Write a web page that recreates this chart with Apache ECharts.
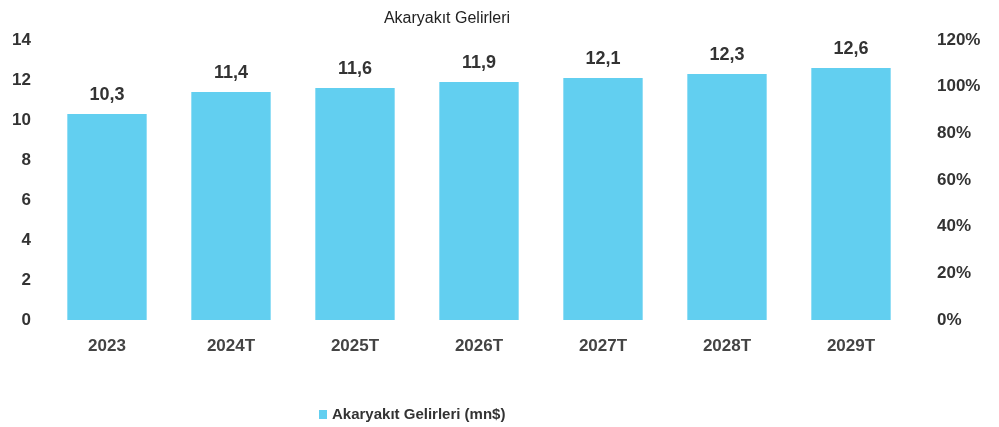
<!DOCTYPE html>
<html>
<head>
<meta charset="utf-8">
<script src="https://cdn.jsdelivr.net/npm/echarts@6/dist/echarts.min.js"></script>
<style>
  html, body { margin: 0; padding: 0; background: #fff; }
  #chart { width: 999px; height: 427px; }
</style>
</head>
<body>
<div id="chart"></div>
<script>
  const years = ['2023', '2024T', '2025T', '2026T', '2027T', '2028T', '2029T']
  const gelirler = [10.3, 11.4, 11.6, 11.9, 12.1, 12.3, 12.6]
  const seriesName = 'Akaryakıt Gelirleri (mn$)'

  const chart = echarts.init(document.getElementById('chart'))
  chart.setOption({
    textStyle: { fontFamily: 'Liberation Sans, Arial, sans-serif' },
    title: {
      text: 'Akaryakıt Gelirleri',
      left: 442,
      top: 6,
      textAlign: 'center',
      textStyle: { fontSize: 16, fontWeight: 'normal', color: '#222' }
    },
    legend: {
      top: 402,
      left: 314,
      icon: 'rect',
      itemWidth: 8,
      itemHeight: 9,
      itemGap: 4,
      textStyle: { fontSize: 15, fontWeight: 'bold', color: '#333' },
      data: [seriesName]
    },
    grid: { left: 45, right: 86, top: 40, bottom: 107 },
    xAxis: {
      type: 'category',
      data: years,
      axisLine: { show: false },
      axisTick: { show: false },
      axisLabel: { fontSize: 17, fontWeight: 'bold', color: '#444', margin: 18 }
    },
    yAxis: [{
      type: 'value',
      min: 0,
      max: 14,
      interval: 2,
      splitLine: { show: false },
      axisLine: { show: false },
      axisTick: { show: false },
      axisLabel: { fontSize: 17, fontWeight: 'bold', color: '#333', margin: 14 }
    }, {
      type: 'value',
      min: 0,
      max: 120,
      interval: 20,
      position: 'right',
      splitLine: { show: false },
      axisLine: { show: false },
      axisTick: { show: false },
      axisLabel: { fontSize: 17, fontWeight: 'bold', color: '#333', margin: 24, formatter: '{value}%' }
    }],
    series: [{
      name: seriesName,
      type: 'bar',
      barWidth: '64%',
      itemStyle: { color: '#62CFF0' },
      label: {
        show: true,
        position: 'top',
        distance: 10,
        fontSize: 18,
        fontWeight: 'bold',
        color: '#333',
        formatter: p => String(p.value).replace('.', ',')
      },
      data: gelirler
    }]
  })
</script>
</body>
</html>
